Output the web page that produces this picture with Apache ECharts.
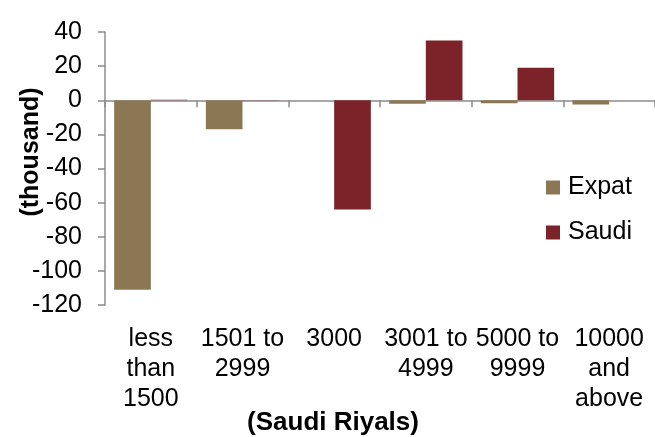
<!DOCTYPE html>
<html>
<head>
<meta charset="utf-8">
<script src="https://cdn.jsdelivr.net/npm/echarts@6/dist/echarts.min.js"></script>
<style>
  html, body { margin: 0; padding: 0; background: #fff; }
  #chart { width: 655px; height: 437px; }
</style>
</head>
<body>
<div id="chart"></div>
<script>
// data (thousand)
var categories = ['less\nthan\n1500', '1501 to\n2999', '3000', '3001 to\n4999', '5000 to\n9999', '10000\nand\nabove'];
var expat = [-111, -17, 0, -2, -1.8, -2.5];
var saudi = [0.3, 0.2, -64, 35, 19, 0];
var yTicks = { min: -120, max: 40, step: 20 };

var FONT = '"Liberation Sans", Arial, sans-serif';
var axisColor = '#8c8c8c';

var chart = echarts.init(document.getElementById('chart'));

var option = {
  backgroundColor: '#fff',
  animation: false,
  color: ['#8c7755', '#7c2229'],
  textStyle: { fontFamily: FONT },
  grid: [
    { left: 105, top: 32, width: 555, height: 273 },
    // same box, only used to put the category labels under the plot
    { left: 105, top: 32, width: 555, height: 273 }
  ],
  legend: {
    orient: 'vertical',
    left: 541,
    top: 170,
    itemWidth: 14,
    itemHeight: 14,
    itemGap: 20,
    icon: 'rect',
    textStyle: { fontSize: 25, color: '#000', fontFamily: FONT, padding: [0, 0, 0, 3] },
    data: ['Expat', 'Saudi']
  },
  xAxis: [{
    type: 'category',
    gridIndex: 0,
    data: categories,
    axisLine: { onZero: true, lineStyle: { color: axisColor, width: 1.5 } },
    axisTick: { show: true, length: 7, lineStyle: { color: axisColor, width: 1.5 } },
    axisLabel: { show: false }
  }, {
    type: 'category',
    gridIndex: 1,
    position: 'bottom',
    data: categories,
    axisLine: { show: false },
    axisTick: { show: false },
    axisLabel: {
      margin: 19,
      interval: 0,
      fontSize: 25,
      lineHeight: 30,
      color: '#000',
      fontFamily: FONT
    }
  }],
  yAxis: [{
    type: 'value',
    gridIndex: 0,
    min: yTicks.min,
    max: yTicks.max,
    interval: yTicks.step,
    splitLine: { show: false },
    axisLine: { show: true, lineStyle: { color: axisColor, width: 1.5 } },
    axisTick: { show: true, length: 7, lineStyle: { color: axisColor, width: 1.5 } },
    axisLabel: { margin: 23, fontSize: 25, color: '#000', fontFamily: FONT }
  }, {
    type: 'value',
    gridIndex: 1,
    show: false,
    min: yTicks.min,
    max: yTicks.max
  }],
  series: [{
    name: 'Expat',
    type: 'bar',
    xAxisIndex: 0,
    yAxisIndex: 0,
    data: expat,
    barGap: '0%',
    barCategoryGap: '20%'
  }, {
    name: 'Saudi',
    type: 'bar',
    xAxisIndex: 0,
    yAxisIndex: 0,
    data: saudi,
    barGap: '0%',
    barCategoryGap: '20%'
  }],
  graphic: [{
    type: 'text',
    x: 31,
    y: 152,
    rotation: Math.PI / 2,
    style: {
      text: '(thousand)',
      font: 'bold 25px ' + FONT,
      fill: '#000',
      align: 'center',
      verticalAlign: 'middle'
    }
  }, {
    type: 'text',
    x: 333,
    y: 423,
    style: {
      text: '(Saudi Riyals)',
      font: 'bold 26px ' + FONT,
      fill: '#000',
      align: 'center',
      verticalAlign: 'middle'
    }
  }]
};

chart.setOption(option);
</script>
</body>
</html>
